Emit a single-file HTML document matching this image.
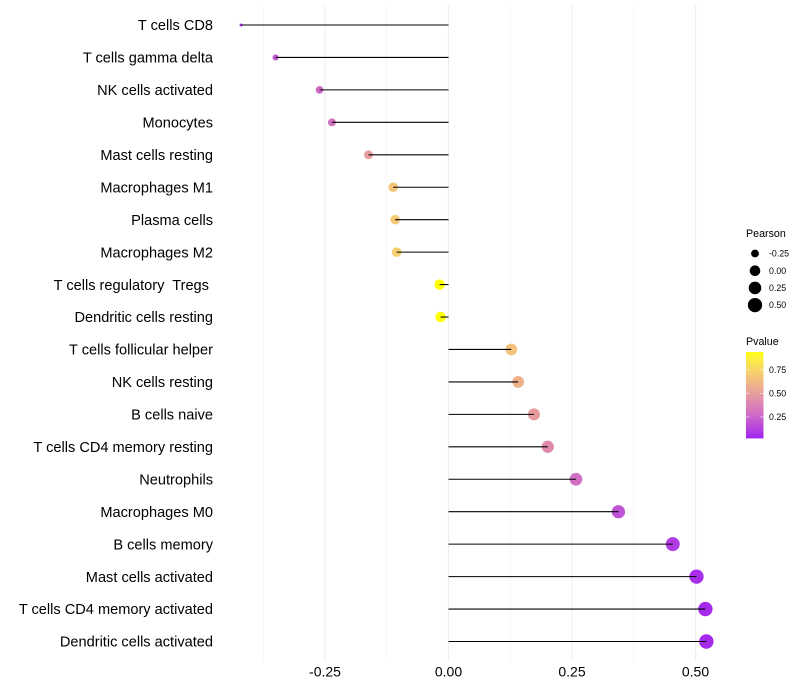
<!DOCTYPE html>
<html>
<head>
<meta charset="utf-8">
<title>Immune cell correlation lollipop chart</title>
<style>
html,body{margin:0;padding:0;background:#fff;width:800px;height:700px;overflow:hidden}
svg{display:block}
text{font-family:"Liberation Sans",Arial,sans-serif;white-space:pre}
</style>
</head>
<body>
<svg id="chart" xmlns="http://www.w3.org/2000/svg" width="800" height="700" viewBox="0 0 800 700" xml:space="preserve"></svg>
<script>
const categories = ["T cells CD8","T cells gamma delta","NK cells activated","Monocytes","Mast cells resting","Macrophages M1","Plasma cells","Macrophages M2","T cells regulatory  Tregs ","Dendritic cells resting","T cells follicular helper","NK cells resting","B cells naive","T cells CD4 memory resting","Neutrophils","Macrophages M0","B cells memory","Mast cells activated","T cells CD4 memory activated","Dendritic cells activated"];
const pearsonValues = [-0.42,-0.35,-0.261,-0.236,-0.162,-0.112,-0.108,-0.105,-0.018,-0.016,0.127,0.141,0.173,0.201,0.258,0.344,0.454,0.502,0.52,0.522];
const pvalueValues = [0.06,0.2,0.28,0.31,0.5,0.68,0.7,0.71,0.94,0.94,0.66,0.59,0.49,0.42,0.3,0.18,0.1,0.06,0.05,0.05];
const xTicks = [-0.25,0,0.25,0.5];
const xTickLabels = ["-0.25","0.00","0.25","0.50"];
const xMinorTicks = [-0.375,-0.125,0.125,0.375];
const sizeLegendValues = [-0.25,0,0.25,0.5];
const sizeLegendLabels = ["-0.25","0.00","0.25","0.50"];
const colorLegendTicks = [0.25,0.5,0.75];
const colorLegendLabels = ["0.25","0.50","0.75"];

const NS = "http://www.w3.org/2000/svg";
const svg = document.getElementById("chart");
const panelTop = 5.5, panelBottom = 661;
const x0 = 448.5, xUnit = 494;
const rowTop = 25, rowStep = 32.447;
const sizeMin = -0.42, sizeMax = 0.522;
const pMin = 0.027, pMax = 0.94;

function xScale(v){ return x0 + v * xUnit; }
function yScale(i){ return rowTop + i * rowStep; }
function rScale(v){
  const t = Math.max(0, Math.min(1, (v - sizeMin) / (sizeMax - sizeMin)));
  return 1.5 + 5.7 * Math.sqrt(t);
}
function lin(c){ c /= 255; return c <= 0.04045 ? c / 12.92 : Math.pow((c + 0.055) / 1.055, 2.4); }
function unlin(c){ c = c <= 0.0031308 ? 12.92 * c : 1.055 * Math.pow(c, 1 / 2.4) - 0.055; return Math.round(Math.max(0, Math.min(1, c)) * 255); }
function toLab(rgb){
  const r = lin(rgb[0]), g = lin(rgb[1]), b = lin(rgb[2]);
  const f = t => t > 0.008856 ? Math.cbrt(t) : 7.787 * t + 16 / 116;
  const X = f((0.4124 * r + 0.3576 * g + 0.1805 * b) / 0.95047);
  const Y = f(0.2126 * r + 0.7152 * g + 0.0722 * b);
  const Z = f((0.0193 * r + 0.1192 * g + 0.9505 * b) / 1.08883);
  return [116 * Y - 16, 500 * (X - Y), 200 * (Y - Z)];
}
function fromLab(l){
  const fy = (l[0] + 16) / 116, fx = fy + l[1] / 500, fz = fy - l[2] / 200;
  const g = t => t * t * t > 0.008856 ? t * t * t : (t - 16 / 116) / 7.787;
  const X = 0.95047 * g(fx), Y = g(fy), Z = 1.08883 * g(fz);
  const r = 3.2406 * X - 1.5372 * Y - 0.4986 * Z;
  const gg = -0.9689 * X + 1.8758 * Y + 0.0415 * Z;
  const b = 0.0557 * X - 0.204 * Y + 1.057 * Z;
  return "rgb(" + unlin(r) + "," + unlin(gg) + "," + unlin(b) + ")";
}
const labLow = toLab([160, 32, 240]);
const labHigh = toLab([255, 255, 0]);
function colorScale(p){
  const t = Math.max(0, Math.min(1, (p - pMin) / (pMax - pMin)));
  return fromLab([0, 1, 2].map(i => labLow[i] + (labHigh[i] - labLow[i]) * t));
}
function make(tag, attrs, text){
  const el = document.createElementNS(NS, tag);
  for (const k in attrs) el.setAttribute(k, attrs[k]);
  if (text !== undefined) el.textContent = text;
  svg.appendChild(el);
  return el;
}

xMinorTicks.forEach(function(v){
  const el = make("line", {x1: xScale(v), x2: xScale(v), y1: panelTop, y2: panelBottom, stroke: "#ededed", "stroke-width": 0.55});
  
  
});
xTicks.forEach(function(v, i){
  const el = make("line", {x1: xScale(v), x2: xScale(v), y1: panelTop, y2: panelBottom, stroke: "#ededed", "stroke-width": 1.07});
  
  
  const lab = make("text", {x: xScale(v), y: 676.5, "text-anchor": "middle", "font-size": 14, fill: "#000"}, xTickLabels[i]);
  
  
});

categories.forEach(function(name, i){
  const y = yScale(i), v = pearsonValues[i];
  const lab = make("text", {x: 213, y: y + 5.2, "text-anchor": "end", "font-size": 14.58, fill: "#000"}, name);
  
  
  const dot = make("circle", {cx: xScale(v), cy: y, r: rScale(v), fill: colorScale(pvalueValues[i])});
  
  
  const stem = make("line", {x1: x0, x2: xScale(v), y1: y, y2: y, stroke: "#000", "stroke-width": 1.07});
  
  
});

const sizeTitle = make("text", {x: 746, y: 237, "font-size": 10.7, fill: "#000"}, "Pearson");


sizeLegendValues.forEach(function(v, i){
  const y = 253.5 + i * 17.2;
  const dot = make("circle", {cx: 755, cy: y, r: rScale(v), fill: "#000"});
  
  
  const lab = make("text", {x: 769, y: y + 3.1, "font-size": 8.8, fill: "#000"}, sizeLegendLabels[i]);
  
  
});

const colorTitle = make("text", {x: 746, y: 345, "font-size": 10.7, fill: "#000"}, "Pvalue");


const barTop = 352, barBottom = 438, barLeft = 746, barWidth = 17.5;
for (let s = 0; s < 43; s++){
  const h = (barBottom - barTop) / 43;
  const p = pMax - (s + 0.5) / 43 * (pMax - pMin);
  const seg = make("rect", {x: barLeft, y: barTop + s * h, width: barWidth, height: h + 0.4, fill: colorScale(p)});
  
  
}
colorLegendTicks.forEach(function(p, i){
  const y = barBottom - (p - pMin) / (pMax - pMin) * (barBottom - barTop);
  const t1 = make("line", {x1: barLeft, x2: barLeft + 3.5, y1: y, y2: y, stroke: "#fff", "stroke-width": 0.5});
  
  
  const t2 = make("line", {x1: barLeft + barWidth - 3.5, x2: barLeft + barWidth, y1: y, y2: y, stroke: "#fff", "stroke-width": 0.5});
  
  
  const lab = make("text", {x: 769, y: y + 3.1, "font-size": 8.8, fill: "#000"}, colorLegendLabels[i]);
  
  
});
</script>
</body>
</html>
